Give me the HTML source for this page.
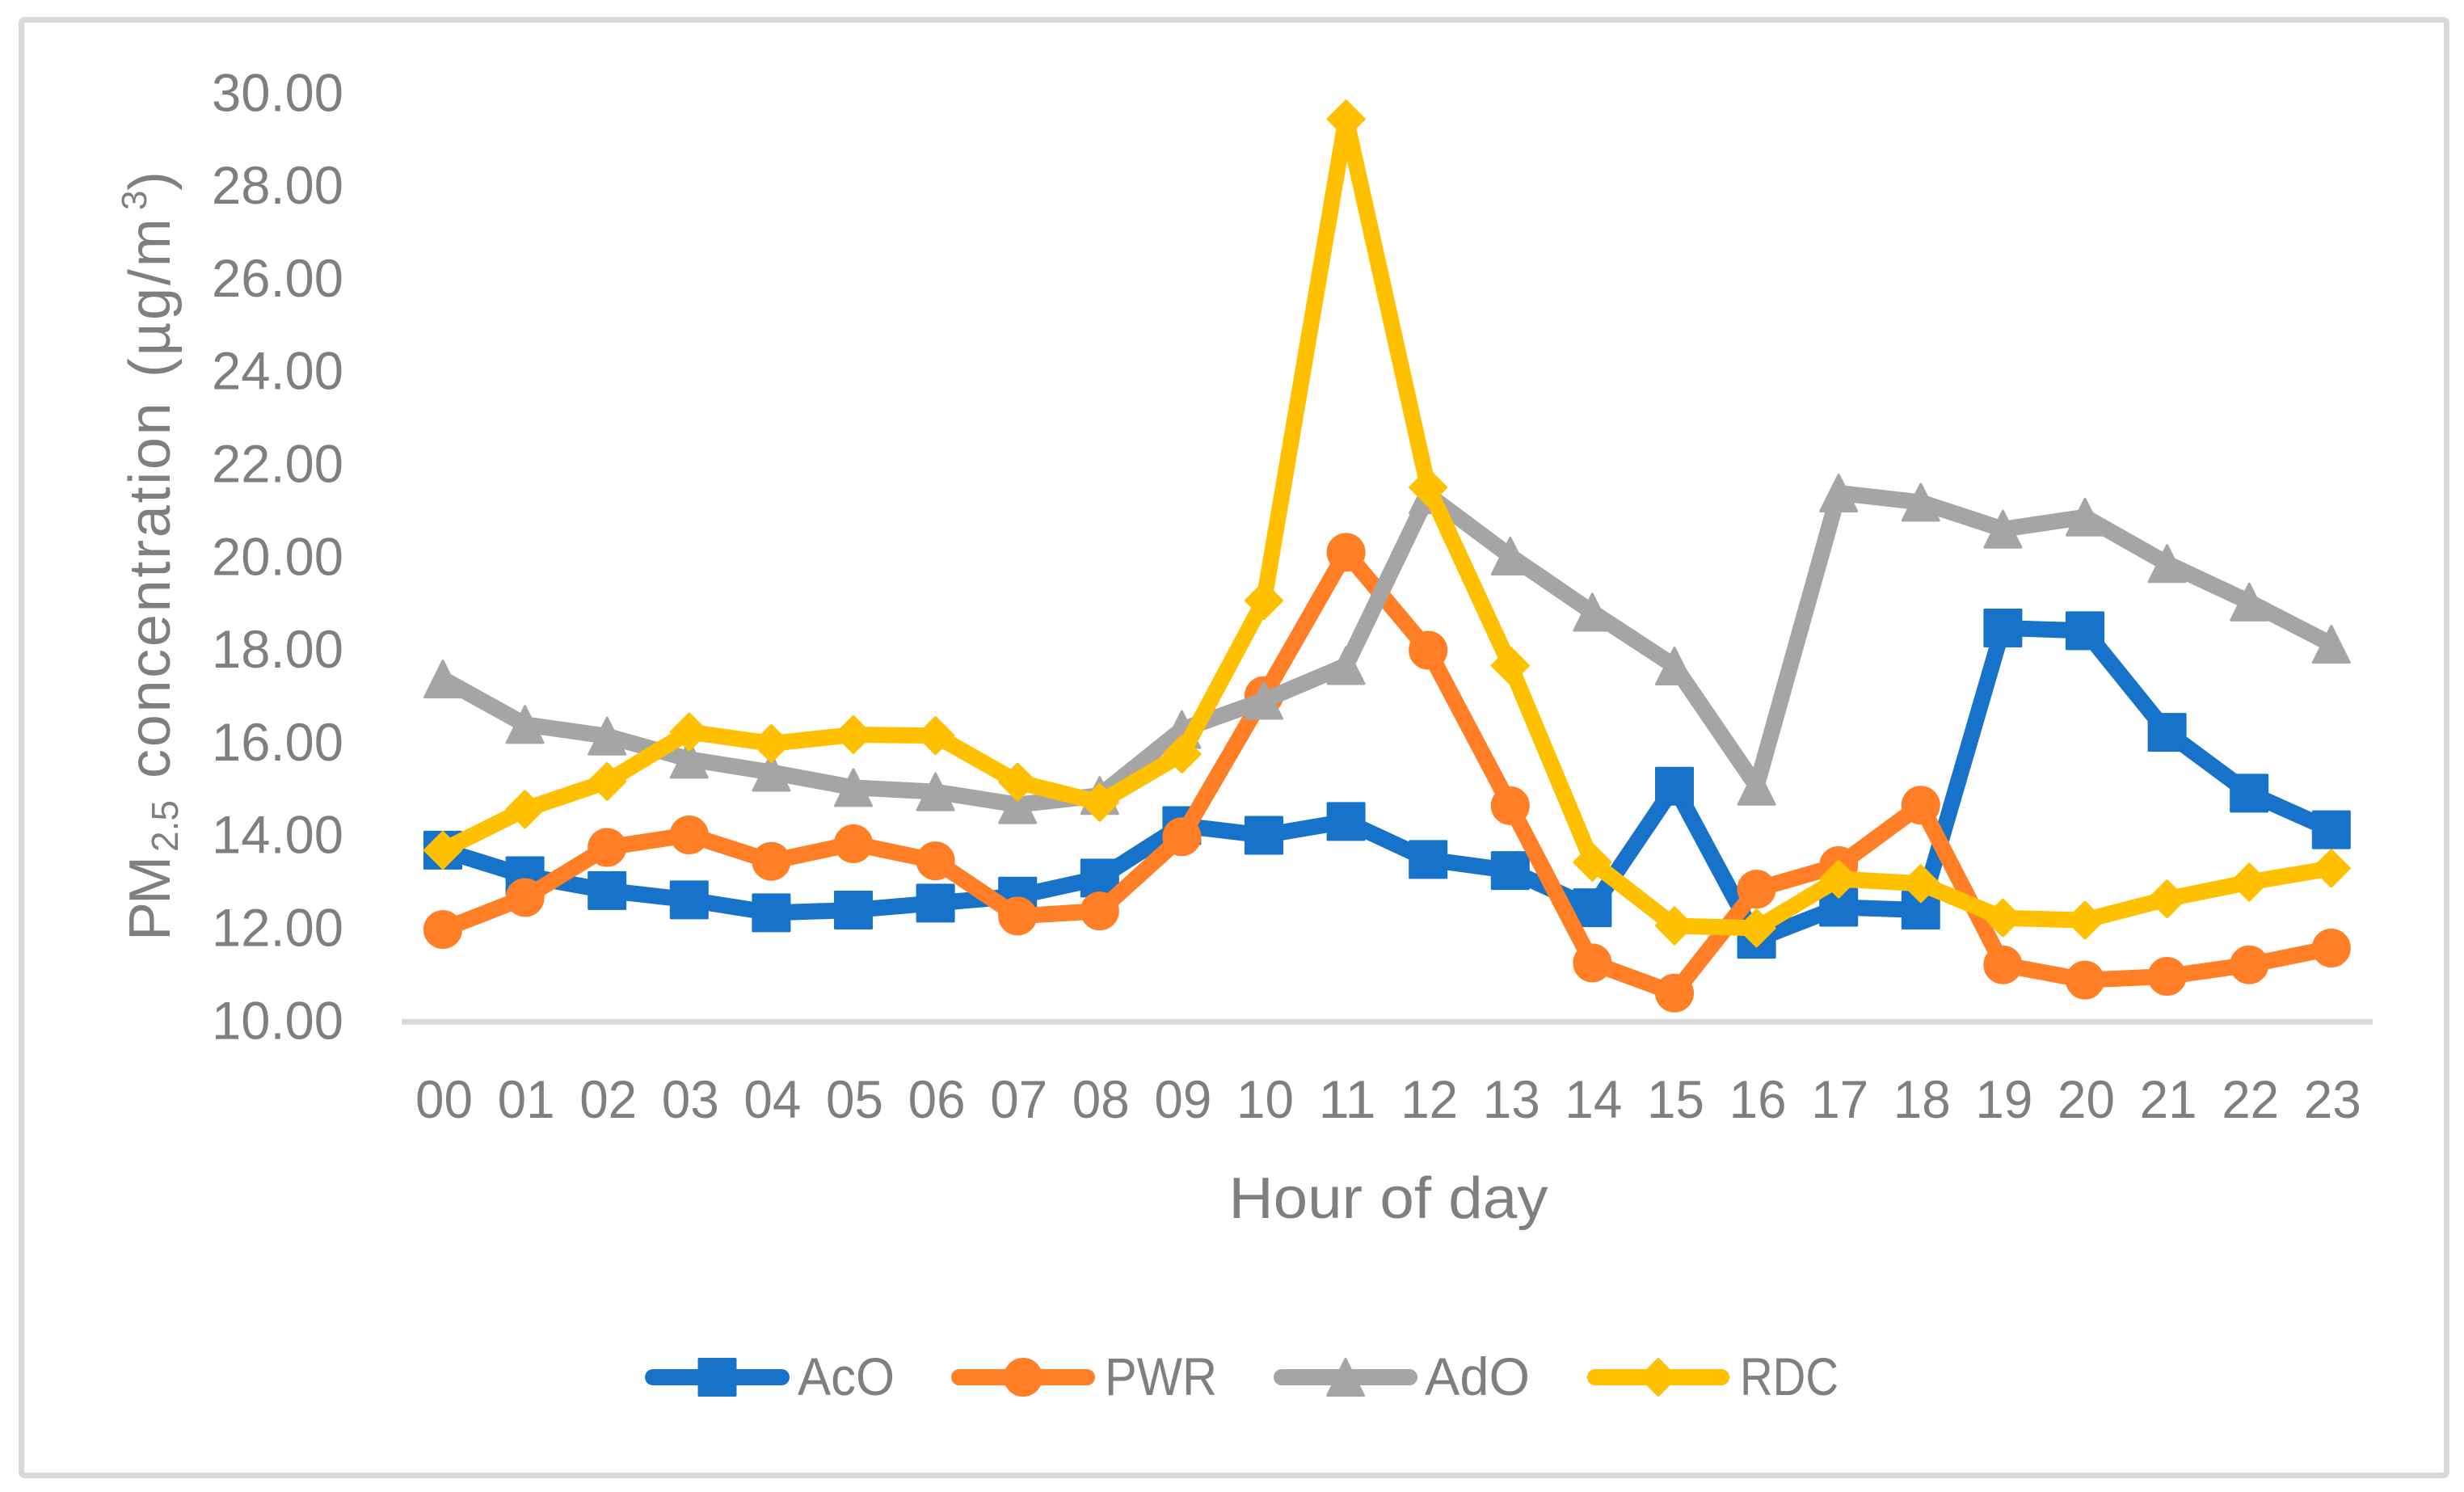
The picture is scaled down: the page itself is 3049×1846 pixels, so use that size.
<!DOCTYPE html>
<html lang="en">
<head>
<meta charset="utf-8">
<title>PM2.5 concentration by hour of day</title>
<style>
html,body{margin:0;padding:0;background:#fff;width:3049px;height:1846px;overflow:hidden}
svg{display:block}
text{font-family:"Liberation Sans",sans-serif;fill:#7f7f7f}
</style>
</head>
<body>
<svg id="chart" xmlns="http://www.w3.org/2000/svg" width="3049" height="1846" viewBox="0 0 3049 1846">
  <rect x="0" y="0" width="3049" height="1846" fill="#ffffff"/>
  <rect x="26.5" y="24.5" width="3001" height="1801" rx="4" fill="none" stroke="#d9d9d9" stroke-width="7"/>
  <g id="y-ticks"></g>
  <g id="x-ticks"></g>
  <line id="x-axis" stroke="#d9d9d9" stroke-width="7"/>
  <g id="series-layer"></g>
  <text transform="translate(210 1164) rotate(-90)" font-size="72" xml:space="preserve"><tspan x="0" y="0" letter-spacing="-3">PM</tspan><tspan x="110" y="10" font-size="46">2.5 </tspan><tspan x="201" y="0" letter-spacing="2.7">concentration </tspan><tspan x="697" y="0" letter-spacing="2.8">(µg/m</tspan><tspan x="904" y="-29" font-size="44">3</tspan><tspan x="928" y="0">)</tspan></text>
  <text x="1718" y="1507" font-size="72" text-anchor="middle" textLength="395" lengthAdjust="spacingAndGlyphs">Hour of day</text>
  <g id="legend"></g>
</svg>
<script>
const hours = ["00","01","02","03","04","05","06","07","08","09","10","11","12","13","14","15","16","17","18","19","20","21","22","23"];
const yTickLabels = ["10.00","12.00","14.00","16.00","18.00","20.00","22.00","24.00","26.00","28.00","30.00"];
const acoValues = [13.7,13.15,12.83,12.63,12.35,12.41,12.56,12.71,13.1,14.23,14.02,14.32,13.5,13.26,12.46,15.08,11.78,12.47,12.41,18.49,18.43,16.24,14.93,14.14];
const pwrValues = [11.99,12.68,13.76,14.03,13.46,13.84,13.47,12.28,12.39,13.99,17.03,20.12,18.01,14.66,11.27,10.62,12.86,13.37,14.67,11.23,10.9,10.98,11.23,11.59];
const adoValues = [17.39,16.41,16.16,15.66,15.38,15.05,14.96,14.68,14.88,16.3,16.93,17.68,21.36,20.04,18.83,17.67,15.08,21.4,21.2,20.62,20.88,19.88,19.05,18.14];
const rdcValues = [13.7,14.58,15.18,16.25,16.0,16.19,16.17,15.17,14.73,15.77,19.08,29.46,21.52,17.68,13.44,12.07,12.02,13.08,12.98,12.24,12.19,12.65,13.01,13.31];
const seriesNames = ["AcO","PWR","AdO","RDC"];

const NS = "http://www.w3.org/2000/svg";
const plot = {left: 497, right: 2936, y10: 1264.3, pxPerUnit: 57.4, firstX: 548, stepX: 101.6};
const xScale = i => plot.firstX + i * plot.stepX;
const yScale = v => plot.y10 - (v - 10) * plot.pxPerUnit;

function make(tag, attrs, parent) {
  const el = document.createElementNS(NS, tag);
  for (const k in attrs) el.setAttribute(k, attrs[k]);
  parent.appendChild(el);
  return el;
}

function markerShape(kind, cx, cy, color, parent) {
  const s = 22.5;
  const common = {fill: color, stroke: color, "stroke-width": 3, "stroke-linejoin": "round"};
  let el;
  if (kind === "square") {
    el = make("rect", {...common, x: cx - s, y: cy - s, width: 2 * s, height: 2 * s}, parent);
  } else if (kind === "circle") {
    el = make("circle", {...common, cx: cx, cy: cy, r: s}, parent);
  } else if (kind === "triangle") {
    el = make("polygon", {...common, points: `${cx},${cy - s} ${cx + s},${cy + s} ${cx - s},${cy + s}`}, parent);
  } else {
    el = make("polygon", {...common, points: `${cx},${cy - s} ${cx + s},${cy} ${cx},${cy + s} ${cx - s},${cy}`}, parent);
  }
  return el;
}

const yTicksG = document.getElementById("y-ticks");
yTickLabels.forEach(label => {
  const t = make("text", {x: 425, y: yScale(parseFloat(label)) + 21, "font-size": 66, "text-anchor": "end", textLength: 163, lengthAdjust: "spacingAndGlyphs"}, yTicksG);
  t.textContent = label;
  
  
});

const xTicksG = document.getElementById("x-ticks");
hours.forEach((h, i) => {
  const t = make("text", {x: xScale(i) + 1.5, y: 1383, "font-size": 66, "text-anchor": "middle", textLength: 71, lengthAdjust: "spacingAndGlyphs"}, xTicksG);
  t.textContent = h;
  
  
});

const axis = document.getElementById("x-axis");
axis.setAttribute("x1", plot.left);
axis.setAttribute("x2", plot.right);
axis.setAttribute("y1", plot.y10);
axis.setAttribute("y2", plot.y10);

const seriesLayer = document.getElementById("series-layer");
const legendG = document.getElementById("legend");
const seriesValues = [acoValues, pwrValues, adoValues, rdcValues];
const seriesColors = ["#1773c9", "#ff7e26", "#a5a5a5", "#ffc000"];
const seriesMarkers = ["square", "circle", "triangle", "diamond"];
const legendLineStart = [798, 1177, 1576, 1964];
const legendLineEnd = [977, 1355, 1754, 2140];
const legendTextStart = [987, 1367, 1763, 2153];
const legendTextWidth = [120, 139, 130, 122];

seriesValues.forEach((vals, si) => {
  const color = seriesColors[si];
  const g = make("g", {}, seriesLayer);
  
  
  const line = make("polyline", {
    points: vals.map((v, i) => xScale(i) + "," + yScale(v)).join(" "),
    fill: "none", stroke: color, "stroke-width": 20, "stroke-linejoin": "round", "stroke-linecap": "round"
  }, g);
  
  
  vals.forEach((v, i) => {
    const m = markerShape(seriesMarkers[si], xScale(i), yScale(v), color, g);
    
    
  });

  const entry = make("g", {}, legendG);
  
  
  const ly = 1704;
  const lx1 = legendLineStart[si], lx2 = legendLineEnd[si];
  const sw = make("line", {x1: lx1 + 10, x2: lx2 - 10, y1: ly, y2: ly, stroke: color, "stroke-width": 20, "stroke-linecap": "round"}, entry);
  
  
  const lm = markerShape(seriesMarkers[si], (lx1 + lx2) / 2, ly, color, entry);
  
  
  const lt = make("text", {x: legendTextStart[si], y: 1726, "font-size": 66, textLength: legendTextWidth[si], lengthAdjust: "spacingAndGlyphs"}, entry);
  lt.textContent = seriesNames[si];
  
  
});
</script>
</body>
</html>
